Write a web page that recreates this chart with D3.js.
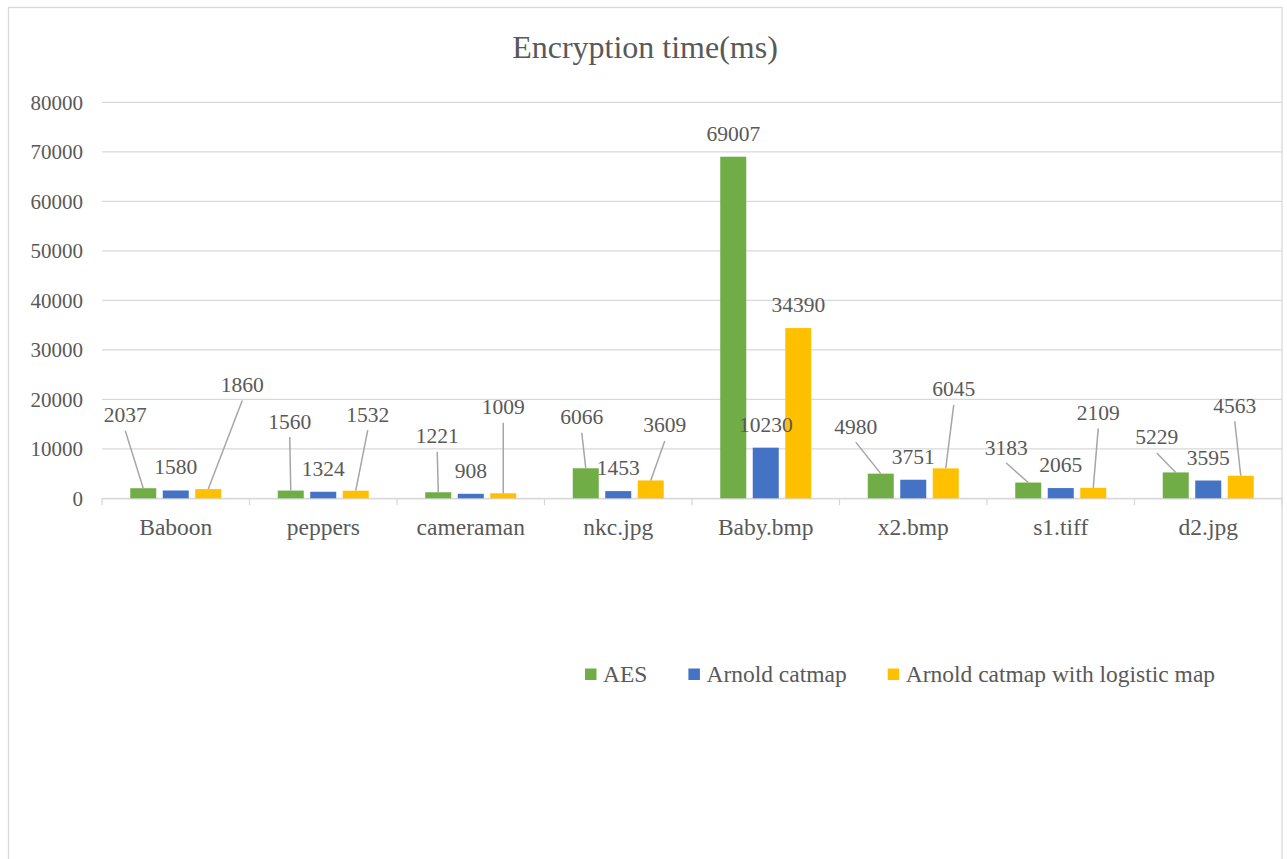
<!DOCTYPE html>
<html>
<head>
<meta charset="utf-8">
<script src="https://cdn.jsdelivr.net/npm/d3@7"></script>
<style>
  html, body { margin: 0; padding: 0; background: #ffffff; }
  svg { display: block; }
  svg text { font-family: "Liberation Serif", "Times New Roman", serif !important; fill: #595959; }
</style>
</head>
<body>
<svg id="chart" width="1287" height="859"></svg>
<script>
// Encryption time (ms) per test image for three ciphers
const categories = ["Baboon", "peppers", "cameraman", "nkc.jpg", "Baby.bmp", "x2.bmp", "s1.tiff", "d2.jpg"];
const seriesNames = ["AES", "Arnold catmap", "Arnold catmap with logistic map"];
const aesTimes      = [2037, 1560, 1221, 6066, 69007, 4980, 3183, 5229];
const arnoldTimes   = [1580, 1324, 908, 1453, 10230, 3751, 2065, 3595];
const logisticTimes = [1860, 1532, 1009, 3609, 34390, 6045, 2109, 4563];
const yTicks = [0, 10000, 20000, 30000, 40000, 50000, 60000, 70000, 80000];

const seriesColors = ["#70AD47", "#4472C4", "#FFC000"];
const SERIF = '"Liberation Serif", "Times New Roman", serif';

// Hand-placed data label offsets (px from the bar top centre to the label baseline centre);
// null keeps the default position just above the bar.
const labelNudges = [
  [[-18, -66], [34, -97]],   // Baboon: AES, logistic
  [[-1, -62], [12, -69]],    // peppers
  [[-1, -49], [0, -79]],     // cameraman
  [[-4, -44], [14, -48]],    // nkc.jpg
  [null, null],              // Baby.bmp
  [[-25, -40], [8, -72]],    // x2.bmp
  [[-22, -28], [5, -68]],    // s1.tiff
  [[-19, -28], [-6, -63]]    // d2.jpg
];

const svg = d3.select("#chart");

// chart frame
svg.append("rect")
  .attr("x", 8.5).attr("y", 7.5)
  .attr("width", 1273.5).attr("height", 900)
  .attr("fill", "#ffffff")
  .attr("stroke", "#d9d9d9").attr("stroke-width", 1.3);

const plot = { left: 102, right: 1282, top: 102.3, bottom: 498.3 };

const x = d3.scaleBand().domain(categories).range([plot.left, plot.right]).padding(0);
const xInner = d3.scaleBand().domain(seriesNames)
  .range([28.25, 28.25 + 91]).paddingInner(0.2).paddingOuter(0);
const y = d3.scaleLinear().domain([0, 80000]).range([plot.bottom, plot.top]);

// title
svg.append("text")
  .attr("x", 645).attr("y", 57.5)
  .attr("text-anchor", "middle")
  .attr("font-family", SERIF)
  .style("font-size", "32px")
  .text("Encryption time(ms)");

// horizontal gridlines
svg.append("g").selectAll("line")
  .data(yTicks)
  .join("line")
  .attr("x1", plot.left).attr("x2", plot.right)
  .attr("y1", d => y(d)).attr("y2", d => y(d))
  .attr("stroke", "#d9d9d9").attr("stroke-width", 1.3);

// y axis labels
const yAxis = d3.axisLeft(y).tickValues(yTicks).tickSize(0).tickPadding(19).tickFormat(d3.format("d"));
const yG = svg.append("g").attr("transform", `translate(${plot.left},0)`).call(yAxis)
  .attr("font-family", SERIF).attr("font-size", 21);
yG.select(".domain").remove();
yG.selectAll("text")
  .attr("dy", "0.34em")
  .attr("font-family", SERIF)
  .style("font-size", "21px");

// x axis with tick marks at category boundaries
const xAxis = d3.axisBottom(x).tickSize(0).tickPadding(0);
const xG = svg.append("g").attr("transform", `translate(0,${plot.bottom})`).call(xAxis)
  .attr("font-family", SERIF).attr("font-size", 23.5);
xG.select(".domain").attr("stroke", "#d9d9d9").attr("stroke-width", 1.3);
xG.selectAll("text")
  .attr("y", 36.5).attr("dy", 0)
  .attr("font-family", SERIF)
  .style("font-size", "23.5px");
const boundaries = categories.map(c => x(c)).concat([plot.right]);
xG.append("g").selectAll("line")
  .data(boundaries)
  .join("line")
  .attr("x1", d => d).attr("x2", d => d)
  .attr("y1", 0).attr("y2", 7)
  .attr("stroke", "#d9d9d9").attr("stroke-width", 1.3);

// bars
const allSeries = [aesTimes, arnoldTimes, logisticTimes];
const rows = [];
categories.forEach((cat, ci) => {
  seriesNames.forEach((s, si) => {
    rows.push({ cat, ci, s, si, value: allSeries[si][ci] });
  });
});

svg.append("g").selectAll("rect")
  .data(rows)
  .join("rect")
  .attr("x", d => x(d.cat) + xInner(d.s))
  .attr("y", d => y(d.value))
  .attr("width", xInner.bandwidth())
  .attr("height", d => y(0) - y(d.value))
  .attr("fill", d => seriesColors[d.si]);

// data labels and leader lines
function nudgeFor(d) {
  if (d.si === 1) return null;
  return labelNudges[d.ci][d.si === 0 ? 0 : 1];
}
rows.forEach(d => {
  const cx = x(d.cat) + xInner(d.s) + xInner.bandwidth() / 2;
  const top = y(d.value);
  const n = nudgeFor(d);
  d.lx = n ? cx + n[0] : cx;
  d.ly = n ? top + n[1] : top - 16;
  d.leader = n ? { x1: d.lx, y1: d.ly + 8.5, x2: cx, y2: top } : null;
});

svg.append("g").selectAll("line")
  .data(rows.filter(d => d.leader))
  .join("line")
  .attr("x1", d => d.leader.x1).attr("y1", d => d.leader.y1)
  .attr("x2", d => d.leader.x2).attr("y2", d => d.leader.y2)
  .attr("stroke", "#a6a6a6").attr("stroke-width", 1.5);

svg.append("g").selectAll("text")
  .data(rows)
  .join("text")
  .attr("x", d => d.lx).attr("y", d => d.ly)
  .attr("text-anchor", "middle")
  .attr("font-family", SERIF)
  .style("font-size", "21.5px")
  .text(d => d.value);

// legend
const legend = svg.append("g");
let lx = 585;
seriesNames.forEach((name, i) => {
  legend.append("rect")
    .attr("x", lx).attr("y", 668.5)
    .attr("width", 11.5).attr("height", 11.5)
    .attr("fill", seriesColors[i]);
  const t = legend.append("text")
    .attr("x", lx + 18).attr("y", 681.7)
    .attr("font-family", SERIF)
    .style("font-size", "23.5px")
    .text(name);
  lx = lx + 18 + t.node().getComputedTextLength() + 41;
});
</script>
</body>
</html>
